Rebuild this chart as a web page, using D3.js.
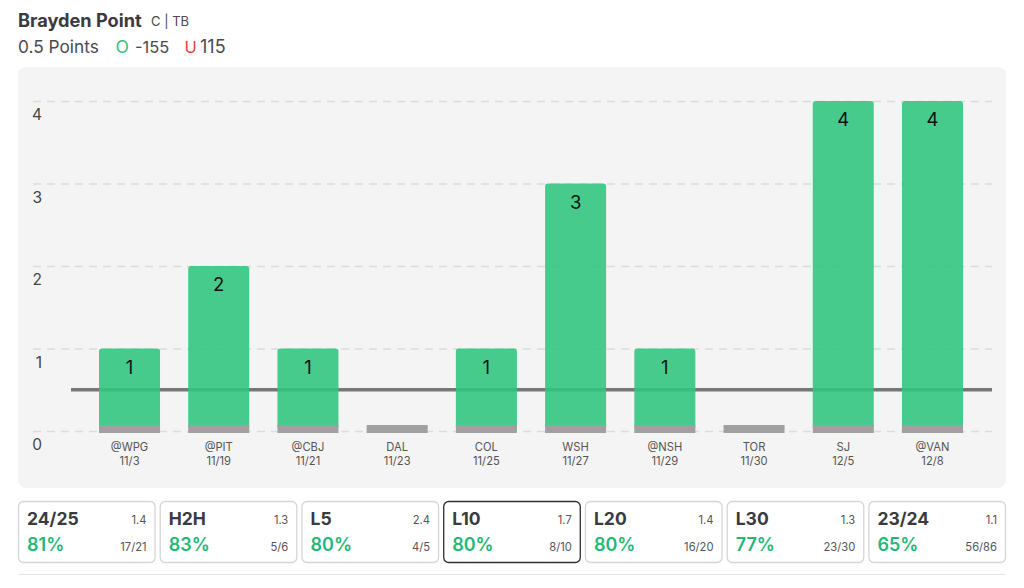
<!DOCTYPE html>
<html>
<head>
<meta charset="utf-8">
<script src="https://cdn.jsdelivr.net/npm/d3@7"></script>
<style>
html, body { margin: 0; padding: 0; background: #fff; }
svg { display: block; }
text { font-family: Inter, "Noto Sans", sans-serif; }
</style>
</head>
<body>
<div id="chart"></div>
<script>
var opponents = ["@WPG", "@PIT", "@CBJ", "DAL", "COL", "WSH", "@NSH", "TOR", "SJ", "@VAN"];
var dates = ["11/3", "11/19", "11/21", "11/23", "11/25", "11/27", "11/29", "11/30", "12/5", "12/8"];
var points = [1, 2, 1, 0, 1, 3, 1, 0, 4, 4];
var yTicks = [0, 1, 2, 3, 4];
var propLine = 0.5;

var cardNames = ["24/25", "H2H", "L5", "L10", "L20", "L30", "23/24"];
var cardAvg = ["1.4", "1.3", "2.4", "1.7", "1.4", "1.3", "1.1"];
var cardPct = ["81%", "83%", "80%", "80%", "80%", "77%", "65%"];
var cardHits = ["17/21", "5/6", "4/5", "8/10", "16/20", "23/30", "56/86"];
var selectedCard = "L10";

var width = 1024, height = 588;
var svg = d3.select("#chart").append("svg")
	.attr("width", width)
	.attr("height", height);

//header
svg.append("text").attr("x", 18).attr("y", 27)
	.attr("font-size", 18.2).attr("font-weight", 700).attr("fill", "#3a3a3f")
	.text("Brayden Point");
svg.append("text").attr("x", 151).attr("y", 26)
	.attr("font-size", 13).attr("fill", "#4a4a4f")
	.text("C | TB");
svg.append("text").attr("x", 18).attr("y", 53)
	.attr("font-size", 17.3).attr("fill", "#4a4a4f")
	.text("0.5 Points");
svg.append("text").attr("x", 115.5).attr("y", 53)
	.attr("font-size", 17.5).attr("fill", "#2fc280")
	.text("O");
svg.append("text").attr("x", 135).attr("y", 53)
	.attr("font-size", 16.5).attr("fill", "#4a4a4f")
	.text("-155");
svg.append("text").attr("x", 184.5).attr("y", 53)
	.attr("font-size", 16.5).attr("fill", "#ee3b42")
	.text("U");
svg.append("text").attr("x", 200).attr("y", 53)
	.attr("font-size", 18).attr("fill", "#4a4a4f")
	.text("115");

//chart panel
svg.append("rect")
	.attr("x", 18).attr("y", 67)
	.attr("width", 988).attr("height", 421)
	.attr("rx", 8)
	.attr("fill", "#f4f4f4");

var x = d3.scaleBand()
	.domain(d3.range(points.length))
	.range([84.9, 977.1])
	.paddingInner(0.316)
	.paddingOuter(0.158);

var y = d3.scaleLinear()
	.domain([0, 4])
	.range([431, 101]);

//dashed grid lines
var grid = svg.append("g")
	.attr("transform", "translate(33,0)")
	.call(d3.axisRight(y).tickValues(yTicks).tickSize(959).tickFormat(""));
grid.select(".domain").remove();
grid.selectAll("line")
	.attr("stroke", "#dcdcdc")
	.attr("stroke-width", 1.5)
	.attr("stroke-dasharray", "8 6");

//y labels sit below their grid line
var yAxis = svg.append("g")
	.attr("transform", "translate(42,14)")
	.call(d3.axisLeft(y).tickValues(yTicks).tickSize(0).tickPadding(0).tickFormat(d3.format("d")));
yAxis.select(".domain").remove();
yAxis.selectAll("text")
	.attr("font-size", 15.5)
	.attr("font-family", "Inter, sans-serif")
	.attr("fill", "#444");

//prop line
svg.append("line")
	.attr("x1", 71).attr("x2", 992)
	.attr("y1", y(propLine)).attr("y2", y(propLine))
	.attr("stroke", "#777")
	.attr("stroke-width", 3.5);

//bars, bound to the game index so filter() keeps the right slot
var stubTop = y(0) - 6, stubHeight = 8;
var bars = svg.append("g").selectAll("g")
	.data(d3.range(points.length))
	.enter().append("g");

bars.filter(function(i) { return points[i] > 0; }).append("rect")
	.attr("x", function(i) { return x(i); })
	.attr("y", function(i) { return y(points[i]); })
	.attr("width", x.bandwidth())
	.attr("height", function(i) { return stubTop - y(points[i]) + 4; })
	.attr("rx", 3)
	.attr("fill", "#31c67f")
	.attr("fill-opacity", 0.89);

bars.append("rect")
	.attr("x", function(i) { return x(i); })
	.attr("y", stubTop)
	.attr("width", x.bandwidth())
	.attr("height", stubHeight)
	.attr("fill", "#a0a0a0");

bars.filter(function(i) { return points[i] > 0; }).append("text")
	.attr("x", function(i) { return x(i) + x.bandwidth() / 2; })
	.attr("y", function(i) { return y(points[i]) + 25; })
	.attr("text-anchor", "middle")
	.attr("font-size", 18.5)
	.attr("fill", "#111")
	.text(function(i) { return points[i]; });

//x labels, two lines
var xAxis = svg.append("g")
	.attr("transform", "translate(0,443.5)")
	.call(d3.axisBottom(x).tickSize(0).tickPadding(0).tickFormat(function(i) { return opponents[i]; }));
xAxis.select(".domain").remove();
xAxis.selectAll("text")
	.attr("font-size", 11.2)
	.attr("font-family", "Inter, sans-serif")
	.attr("fill", "#555");
xAxis.selectAll(".tick").append("text")
	.attr("y", 14)
	.attr("dy", "0.71em")
	.attr("text-anchor", "middle")
	.attr("font-size", 11.2)
	.attr("font-family", "Inter, sans-serif")
	.attr("fill", "#555")
	.text(function(i) { return dates[i]; });

//summary cards
var cardX = d3.scaleBand()
	.domain(cardNames)
	.range([18, 1006])
	.paddingInner(0.0295);

var cards = svg.append("g").selectAll("g")
	.data(cardNames)
	.enter().append("g")
	.attr("transform", function(d) { return "translate(" + cardX(d) + ",501)"; });

cards.append("rect")
	.attr("x", 0.5).attr("y", 0.5)
	.attr("width", cardX.bandwidth() - 1).attr("height", 61)
	.attr("rx", 5)
	.attr("fill", "#fff")
	.attr("stroke", function(d) { return d === selectedCard ? "#2f2f33" : "#d6d6d8"; })
	.attr("stroke-width", 1.3);

cards.append("text")
	.attr("x", 9).attr("y", 24)
	.attr("font-size", 17.5).attr("font-weight", 700).attr("fill", "#3a3a3f")
	.text(function(d) { return d; });

cards.append("text")
	.attr("x", 9).attr("y", 50)
	.attr("font-size", 18).attr("font-weight", 600).attr("fill", "#1fb877")
	.text(function(d, i) { return cardPct[i]; });

cards.append("text")
	.attr("x", cardX.bandwidth() - 9).attr("y", 23)
	.attr("text-anchor", "end")
	.attr("font-size", 11.2).attr("fill", "#555")
	.text(function(d, i) { return cardAvg[i]; });

cards.append("text")
	.attr("x", cardX.bandwidth() - 9).attr("y", 49.5)
	.attr("text-anchor", "end")
	.attr("font-size", 11.2).attr("fill", "#555")
	.text(function(d, i) { return cardHits[i]; });

//bottom rule
svg.append("line")
	.attr("x1", 18).attr("x2", 1006)
	.attr("y1", 574.5).attr("y2", 574.5)
	.attr("stroke", "#e6e6e8")
	.attr("stroke-width", 1.2);
</script>
</body>
</html>
